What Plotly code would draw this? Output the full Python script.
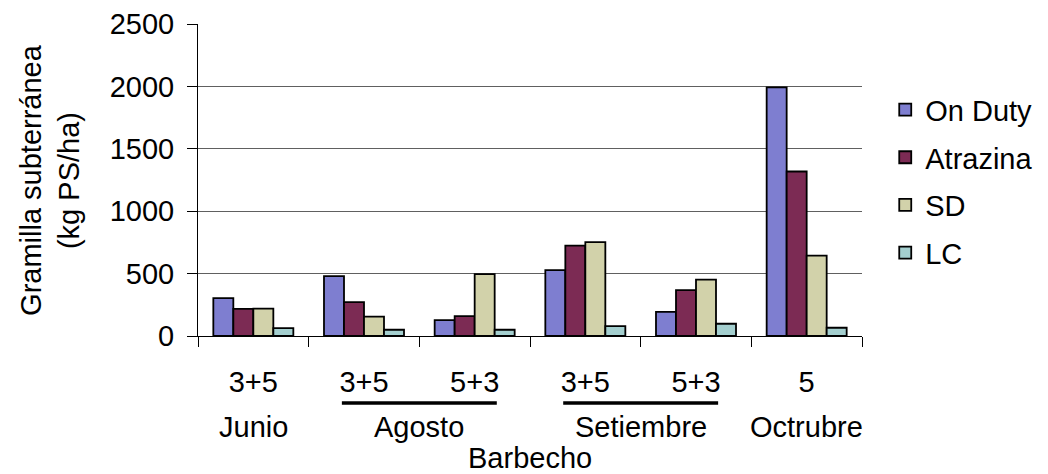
import plotly.graph_objects as go

treatments = ["3+5", "3+5", "5+3", "3+5", "5+3", "5"]
months = ["Junio", "Agosto", "Setiembre", "Octrubre"]
month_pos = [0, 1.5, 3.5, 5]
x_title = "Barbecho"
y_title = "Gramilla subterránea<br>(kg PS/ha)"

series_names = ["On Duty", "Atrazina", "SD", "LC"]
on_duty = [303, 480, 127, 528, 194, 1992]
atrazina = [218, 271, 159, 724, 368, 1318]
sd = [220, 156, 496, 753, 451, 644]
lc = [63, 50, 50, 79, 98, 66]
values = [on_duty, atrazina, sd, lc]
colors = ["#7E7ED0", "#7C2B54", "#D2D2AA", "#A4CFCF"]

FONT = "Liberation Sans, Arial, sans-serif"
FS = 29

x = list(range(len(treatments)))
fig = go.Figure()
for name, vals, col in zip(series_names, values, colors):
    fig.add_trace(go.Bar(
        x=x, y=vals, name=name, legendgroup=name,
        marker=dict(color=col, line=dict(color="black", width=1.8)),
    ))

fig.update_layout(
    width=1048, height=474,
    margin=dict(l=198, r=186, t=24, b=138, autoexpand=False),
    paper_bgcolor="white", plot_bgcolor="white",
    barmode="group", bargap=0.277, bargroupgap=0,
    font=dict(family=FONT, size=FS, color="black"),
    showlegend=True,
    legend=dict(x=1.035, y=0.807, xanchor="left", yanchor="top",
                font=dict(family=FONT, size=FS, color="black"),
                tracegroupgap=7, bgcolor="rgba(0,0,0,0)"),
)
fig.update_xaxes(
    range=[-0.5, 5.5], tickvals=x, ticktext=treatments, ticks="",
    showgrid=False, zeroline=False, showline=True, linecolor="black", linewidth=1,
    ticklabelstandoff=20, automargin=False,
    minor=dict(tickvals=[i - 0.5 for i in range(len(treatments) + 1)],
               ticks="outside", ticklen=10, tickcolor="black", tickwidth=1, showgrid=False),
)
fig.update_yaxes(
    range=[0, 2500], dtick=500, tick0=0, ticks="outside", ticklen=10,
    tickcolor="black", tickwidth=1, automargin=False,
    showgrid=True, gridcolor="#606060", gridwidth=1, zeroline=False,
    showline=True, linecolor="black", linewidth=1, ticklabelstandoff=7,
)

for m, p in zip(months, month_pos):
    fig.add_annotation(x=p, xref="x", y=-0.2917, yref="paper", text=m,
                       showarrow=False, xanchor="center", yanchor="middle",
                       font=dict(family=FONT, size=FS, color="black"))
fig.add_annotation(x=0.5, xref="paper", y=-0.39, yref="paper", text=x_title,
                   showarrow=False, xanchor="center", yanchor="middle", borderpad=0,
                   font=dict(family=FONT, size=FS, color="black"))
fig.add_annotation(x=-0.223, xref="paper", y=0.5, yref="paper", text=y_title,
                   showarrow=False, xanchor="center", yanchor="middle", textangle=-90,
                   font=dict(family=FONT, size=FS, color="black"))

for a, b in [(1, 2), (3, 4)]:
    fig.add_shape(type="line", xref="x", yref="paper", x0=a - 0.2, x1=b + 0.2,
                  y0=-0.215, y1=-0.215, line=dict(color="black", width=3.5))

fig.write_html("out.html", config={"displayModeBar": False},
               post_script="document.body.style.margin='0';document.body.style.overflow='hidden';")
